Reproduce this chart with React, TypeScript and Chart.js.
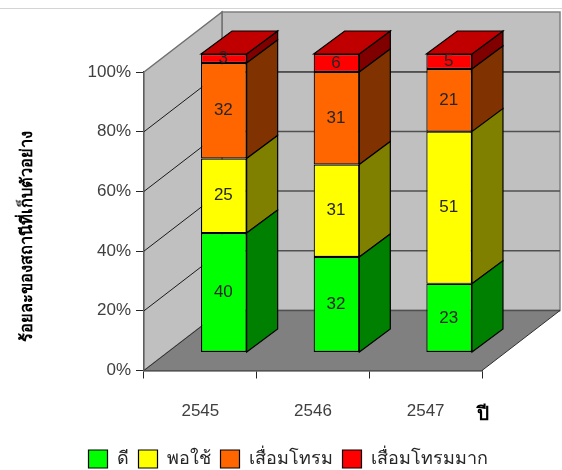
import React, { useEffect, useRef } from "react";
import { Chart, registerables } from "chart.js";

Chart.register(...registerables);

const years = ["2545", "2546", "2547"];
const good = [40, 32, 23];
const fair = [25, 31, 51];
const degraded = [32, 31, 21];
const severe = [3, 6, 5];

const seriesNames = ["ดี", "พอใช้", "เสื่อมโทรม", "เสื่อมโทรมมาก"];
const frontColors = ["#00ff00", "#ffff00", "#ff6600", "#ff0000"];
const sideColors = ["#008000", "#808000", "#803300", "#800000"];
const topColor = "#c00000";

const yTitle = "ร้อยละของสถานีที่เก็บตัวอย่าง";
const xTitle = "ปี";

const FONT = '"Liberation Sans", Arial, sans-serif';

// Oblique projection offsets: the whole floor, and the bars within it.
const WALL_DX = 78;
const WALL_DY = -60;
const BAR_SHIFT_X = 23.5;
const BAR_SHIFT_Y = -18;
const BAR_DX = 31;
const BAR_DY = -23;

function polygon(ctx: CanvasRenderingContext2D, pts: number[][], fill: string, stroke?: string, lw = 1) {
  ctx.beginPath();
  pts.forEach(([x, y], i) => (i ? ctx.lineTo(x, y) : ctx.moveTo(x, y)));
  ctx.closePath();
  ctx.fillStyle = fill;
  ctx.fill();
  if (stroke) {
    ctx.strokeStyle = stroke;
    ctx.lineWidth = lw;
    ctx.stroke();
  }
}

const box3d = {
  id: "box3d",
  // Nudges the legend row to its place under the plot.
  afterLayout(chart: any) {
    const legend = chart.legend;
    legend.left += 47;
    legend.right += 47;
    legend.top += 8;
    legend.bottom += 8;
  },
  // Walls, floor and wall gridlines sit behind the bars.
  beforeDatasetsDraw(chart: any) {
    const { ctx, chartArea: a, scales } = chart;
    const { left: l, right: r, top: t, bottom: b } = a;
    ctx.save();
    ctx.strokeStyle = "#d4d4d4";
    ctx.lineWidth = 1;
    ctx.beginPath();
    ctx.moveTo(0, 8.5);
    ctx.lineTo(chart.width, 8.5);
    ctx.stroke();

    polygon(ctx, [[l + WALL_DX, t + WALL_DY], [r + WALL_DX, t + WALL_DY], [r + WALL_DX, b + WALL_DY], [l + WALL_DX, b + WALL_DY]], "#c0c0c0", "#808080", 1.5);
    polygon(ctx, [[l, t], [l + WALL_DX, t + WALL_DY], [l + WALL_DX, b + WALL_DY], [l, b]], "#c0c0c0", "#707070", 1.5);
    polygon(ctx, [[l, b], [r, b], [r + WALL_DX, b + WALL_DY], [l + WALL_DX, b + WALL_DY]], "#808080");

    scales.y.ticks.forEach((tick: any) => {
      if (tick.value === 0 || tick.value === 100) return;
      const y = scales.y.getPixelForValue(tick.value);
      ctx.strokeStyle = "#1a1a1a";
      ctx.lineWidth = 1;
      ctx.beginPath();
      ctx.moveTo(l, y);
      ctx.lineTo(l + WALL_DX, y + WALL_DY);
      ctx.stroke();
      ctx.strokeStyle = "#505050";
      ctx.lineWidth = 1.5;
      ctx.beginPath();
      ctx.moveTo(l + WALL_DX, y + WALL_DY);
      ctx.lineTo(r + WALL_DX, y + WALL_DY);
      ctx.stroke();
    });

    // The line along the top of the 100% level on the back wall
    ctx.strokeStyle = "#505050";
    ctx.lineWidth = 1.5;
    ctx.beginPath();
    ctx.moveTo(l + WALL_DX, t);
    ctx.lineTo(r + WALL_DX, t);
    ctx.stroke();

    // Floor edges
    ctx.beginPath();
    ctx.moveTo(l + WALL_DX, b + WALL_DY);
    ctx.lineTo(r + WALL_DX, b + WALL_DY);
    ctx.stroke();
    ctx.strokeStyle = "#303030";
    ctx.lineWidth = 1;
    ctx.beginPath();
    ctx.moveTo(l, b);
    ctx.lineTo(l + WALL_DX, b + WALL_DY);
    ctx.moveTo(r, b);
    ctx.lineTo(r + WALL_DX, b + WALL_DY);
    ctx.stroke();
    ctx.restore();
  },
  // Each stacked segment gets a side face, and the top segment a lid.
  beforeDatasetDraw(chart: any, args: any) {
    const { ctx } = chart;
    const last = chart.data.datasets.length - 1;
    ctx.save();
    ctx.translate(BAR_SHIFT_X, BAR_SHIFT_Y);
    args.meta.data.forEach((bar: any) => {
      const { x, y, base, width } = bar.getProps(["x", "y", "base", "width"], true);
      const xr = x + width / 2;
      const xl = x - width / 2;
      polygon(ctx, [[xr, y], [xr + BAR_DX, y + BAR_DY], [xr + BAR_DX, base + BAR_DY], [xr, base]], sideColors[args.index], "#000", 1.2);
      if (args.index === last) {
        polygon(ctx, [[xl, y], [xl + BAR_DX, y + BAR_DY], [xr + BAR_DX, y + BAR_DY], [xr, y]], topColor, "#000", 1.2);
      }
    });
  },
  afterDatasetDraw(chart: any) {
    chart.ctx.restore();
  },
  // Value labels and the two axis captions.
  afterDatasetsDraw(chart: any) {
    const { ctx } = chart;
    ctx.save();
    ctx.fillStyle = "#262626";
    ctx.font = `17px ${FONT}`;
    ctx.textAlign = "center";
    ctx.textBaseline = "middle";
    chart.data.datasets.forEach((ds: any, di: number) => {
      chart.getDatasetMeta(di).data.forEach((bar: any, i: number) => {
        const { x, y, base } = bar.getProps(["x", "y", "base"], true);
        ctx.fillText(String(ds.data[i]), x + BAR_SHIFT_X - 0.5, (y + base) / 2 + BAR_SHIFT_Y);
      });
    });
    ctx.fillStyle = "#000";
    ctx.font = `bold 19px ${FONT}`;
    ctx.fillText(xTitle, 483, 415);
    ctx.translate(27, 236);
    ctx.rotate(-Math.PI / 2);
    ctx.font = `bold 16.5px ${FONT}`;
    ctx.fillText(yTitle, 0, 0);
    ctx.restore();
  },
};

export default function App() {
  const ref = useRef<HTMLCanvasElement>(null);

  useEffect(() => {
    const series = [good, fair, degraded, severe];
    const chart = new Chart(ref.current!, {
      type: "bar",
      data: {
        labels: years,
        datasets: series.map((data, i) => ({
          label: seriesNames[i],
          data,
          backgroundColor: frontColors[i],
          borderColor: "#000",
          borderWidth: 1.2,
          borderSkipped: false,
          clip: false,
          barPercentage: 0.405,
          categoryPercentage: 1,
        })),
      },
      options: {
        responsive: false,
        animation: false,
        layout: { padding: { top: 72, right: 80, left: 0, bottom: 0 } },
        plugins: {
          tooltip: { enabled: false },
          legend: {
            position: "bottom",
            labels: {
              boxWidth: 19,
              boxHeight: 18,
              padding: 10,
              color: "#262626",
              font: { family: FONT, size: 18 },
            },
          },
        },
        scales: {
          x: {
            stacked: true,
            afterFit: (s: any) => { s.height = 61.5; },
            grid: { drawOnChartArea: false, tickLength: 8, tickColor: "#262626" },
            border: { color: "#262626", width: 1.5 },
            ticks: { color: "#404040", padding: 23, maxRotation: 0, font: { family: FONT, size: 17 } },
          },
          y: {
            stacked: true,
            min: 0,
            max: 100,
            afterFit: (s: any) => { s.width = 144; },
            grid: { drawOnChartArea: false, tickLength: 8, tickColor: "#262626" },
            border: { color: "#262626", width: 1.5 },
            ticks: {
              stepSize: 20,
              color: "#404040",
              padding: 5,
              font: { family: FONT, size: 17 },
              callback: (v: any) => `${v}%`,
            },
          },
        },
      },
      plugins: [box3d],
    } as any);
    return () => chart.destroy();
  }, []);

  return (
    <canvas
      ref={ref}
      width={562}
      height={470}
      style={{ position: "absolute", left: 0, top: 0, display: "block" }}
    />
  );
}
